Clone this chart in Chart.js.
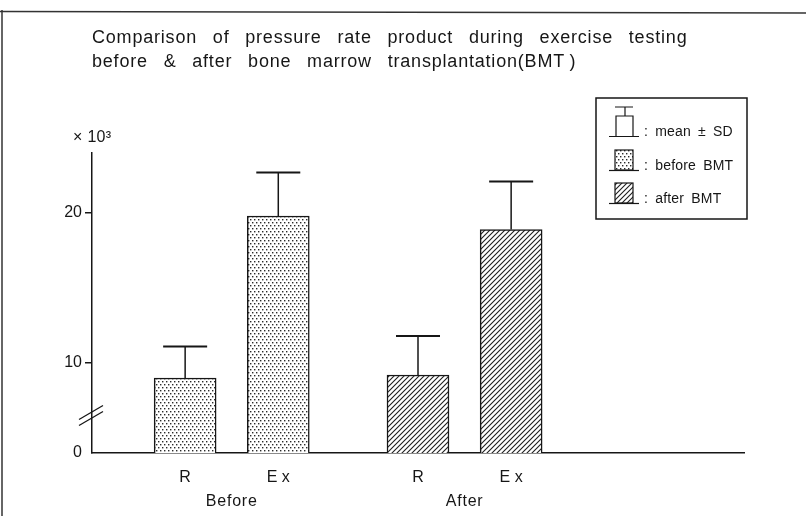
<!DOCTYPE html>
<html>
<head>
<meta charset="utf-8">
<script src="https://cdn.jsdelivr.net/npm/chart.js@4.4.1/dist/chart.umd.min.js"></script>
<style>
  html, body { margin: 0; padding: 0; background: #ffffff; }
  #wrap { width: 806px; height: 516px; }
</style>
</head>
<body>
<div id="wrap"><canvas id="c" width="806" height="516"></canvas></div>
<script>
// ---------- data ----------
const titleLines = [
  'Comparison of pressure rate product during exercise testing',
  'before & after bone marrow transplantation(BMT\u2009)'
];
const groups = ['Before', 'After'];
const conditions = ['R', 'E x'];
const beforeMean = [9.0, 19.8];
const beforeSD = [2.1, 2.9];
const afterMean = [9.2, 18.9];
const afterSD = [2.6, 3.2];
const yTickValues = [10, 20];
const axisFloorValue = 4;      // value where the broken axis starts (labelled 0)
const axisFloorLabel = '0';
const axisTopValue = 24;
const yUnitLabel = '× 10³';
const legendLabels = [': mean ± SD', ': before BMT', ': after BMT'];

// ---------- slot layout for the category axis ----------
const SLOT = { lead: 2, barStep: 2, groupStep: 5, total: 15 };
const slotLabels = new Array(SLOT.total).fill('');
const beforeData = new Array(SLOT.total).fill(null);
const afterData = new Array(SLOT.total).fill(null);
const slotSD = new Array(SLOT.total).fill(null);
const groupSlots = [];
groups.forEach((g, gi) => {
  const slots = [];
  conditions.forEach((c, ci) => {
    const s = SLOT.lead + gi * SLOT.groupStep + ci * SLOT.barStep;
    slotLabels[s] = c;
    if (gi === 0) { beforeData[s] = beforeMean[ci]; } else { afterData[s] = afterMean[ci]; }
    slotSD[s] = gi === 0 ? beforeSD[ci] : afterSD[ci];
    slots.push(s);
  });
  groupSlots.push(slots);
});

// ---------- patterns ----------
const INK = '#161616';
function dotPattern() {
  const t = document.createElement('canvas');
  t.width = 4; t.height = 6;
  const g = t.getContext('2d');
  g.fillStyle = '#ffffff'; g.fillRect(0, 0, 4, 6);
  g.fillStyle = '#2a2a2a';
  g.fillRect(0, 0, 1.4, 1.4);
  g.fillRect(2, 3, 1.4, 1.4);
  return g.createPattern(t, 'repeat');
}
function hatchPattern() {
  const s = 5;
  const t = document.createElement('canvas');
  t.width = s; t.height = s;
  const g = t.getContext('2d');
  g.fillStyle = '#ffffff'; g.fillRect(0, 0, s, s);
  g.strokeStyle = '#1e1e1e'; g.lineWidth = 1.1;
  g.beginPath();
  g.moveTo(0, s); g.lineTo(s, 0);
  g.moveTo(-1, 1); g.lineTo(1, -1);
  g.moveTo(s - 1, s + 1); g.lineTo(s + 1, s - 1);
  g.stroke();
  return g.createPattern(t, 'repeat');
}
const ctx0 = document.getElementById('c').getContext('2d');
const DOTS = dotPattern();
const HATCH = hatchPattern();

const FONT = '"Liberation Sans", Arial, Helvetica, sans-serif';

// ---------- plugins ----------
const bgPlugin = {
  id: 'bg',
  beforeDraw(chart) {
    const c = chart.ctx;
    c.save(); c.fillStyle = '#ffffff'; c.fillRect(0, 0, chart.width, chart.height); c.restore();
  }
};

const errorBars = {
  id: 'errorBars',
  afterDatasetsDraw(chart) {
    const c = chart.ctx;
    const y = chart.scales.y;
    c.save();
    c.strokeStyle = INK;
    chart.data.datasets.forEach((ds, di) => {
      const meta = chart.getDatasetMeta(di);
      meta.data.forEach((el, i) => {
        const v = ds.data[i];
        if (v === null || v === undefined) return;
        const top = y.getPixelForValue(v + slotSD[i]);
        c.lineWidth = 1.5;
        c.beginPath(); c.moveTo(el.x, el.y); c.lineTo(el.x, top); c.stroke();
        c.lineWidth = 2;
        c.beginPath(); c.moveTo(el.x - 22, top); c.lineTo(el.x + 22, top); c.stroke();
      });
    });
    c.restore();
  }
};

function setSpacing(c, ls, ws) {
  if ('letterSpacing' in c) c.letterSpacing = ls + 'px';
  if ('wordSpacing' in c) c.wordSpacing = ws + 'px';
}

const decor = {
  id: 'decor',
  afterDraw(chart) {
    const c = chart.ctx;
    const x = chart.scales.x, y = chart.scales.y;
    const area = chart.chartArea;
    c.save();
    c.fillStyle = INK; c.strokeStyle = INK;

    // scan frame
    c.lineWidth = 1.5; c.strokeStyle = '#333';
    c.beginPath(); c.moveTo(0, 11.5); c.lineTo(806, 13); c.stroke();
    c.beginPath(); c.moveTo(2, 10); c.lineTo(2, 516); c.stroke();
    c.strokeStyle = INK;

    // title
    c.font = '18px ' + FONT;
    c.textAlign = 'left'; c.textBaseline = 'middle';
    setSpacing(c, 0.8, 10);
    c.fillText(titleLines[0], 92, 38);
    c.fillText(titleLines[1], 92, 62);
    setSpacing(c, 0, 0);

    // unit label
    c.font = '16px ' + FONT;
    setSpacing(c, 0.3, 0);
    c.fillText(yUnitLabel, 73, 138);
    setSpacing(c, 0, 0);

    // axis break
    const yb = y.getPixelForValue(6.5);
    c.lineWidth = 1.3;
    [-3, 3].forEach(off => {
      c.beginPath();
      c.moveTo(area.left - 13, yb + off + 7);
      c.lineTo(area.left + 11, yb + off - 7);
      c.stroke();
    });

    // group labels
    c.font = '16px ' + FONT;
    c.textAlign = 'center';
    setSpacing(c, 0.8, 0);
    groups.forEach((g, gi) => {
      const s = groupSlots[gi];
      const cx = (x.getPixelForValue(s[0]) + x.getPixelForValue(s[s.length - 1])) / 2;
      c.fillText(g, cx, 502);
    });
    setSpacing(c, 0, 0);

    // legend
    c.lineWidth = 1.5;
    c.strokeRect(596, 98, 151, 121);
    // item 1: mean ± SD symbol
    c.lineWidth = 1.2;
    c.beginPath();
    c.moveTo(615, 107); c.lineTo(633, 107);
    c.moveTo(625, 107); c.lineTo(625, 116);
    c.moveTo(616, 136); c.lineTo(616, 116); c.lineTo(633, 116); c.lineTo(633, 136);
    c.moveTo(609, 136.5); c.lineTo(639, 136.5);
    c.stroke();
    // item 2: dotted box
    c.fillStyle = DOTS; c.fillRect(615, 150, 18, 20);
    c.strokeRect(615, 150, 18, 20);
    c.beginPath(); c.moveTo(609, 170.5); c.lineTo(639, 170.5); c.stroke();
    // item 3: hatched box
    c.fillStyle = HATCH; c.fillRect(615, 183, 18, 20);
    c.strokeRect(615, 183, 18, 20);
    c.beginPath(); c.moveTo(609, 203.5); c.lineTo(639, 203.5); c.stroke();
    c.fillStyle = INK;
    c.font = '14px ' + FONT;
    c.textAlign = 'left';
    setSpacing(c, 0.2, 3);
    c.fillText(legendLabels[0], 644, 132);
    c.fillText(legendLabels[1], 644, 166);
    c.fillText(legendLabels[2], 644, 199);
    setSpacing(c, 0, 0);
    c.restore();
  }
};

// ---------- chart ----------
new Chart(ctx0, {
  type: 'bar',
  data: {
    labels: slotLabels,
    datasets: [
      { label: 'before BMT', data: beforeData, backgroundColor: DOTS, borderColor: INK, borderWidth: 1.5, borderSkipped: false },
      { label: 'after BMT', data: afterData, backgroundColor: HATCH, borderColor: INK, borderWidth: 1.5, borderSkipped: false }
    ]
  },
  options: {
    responsive: false,
    animation: false,
    devicePixelRatio: 1,
    layout: { padding: { left: 0, top: 153, right: 62, bottom: 0 } },
    datasets: { bar: { barThickness: 62, grouped: false } },
    plugins: { legend: { display: false }, tooltip: { enabled: false }, title: { display: false } },
    scales: {
      x: {
        type: 'category',
        offset: false,
        grid: { display: false, drawTicks: false },
        border: { display: true, color: INK, width: 1.5 },
        ticks: { autoSkip: false, maxRotation: 0, minRotation: 0, padding: 15, color: INK, font: { size: 16, family: FONT } },
        afterFit(scale) { scale.height = 63; }
      },
      y: {
        type: 'linear',
        min: axisFloorValue,
        max: axisTopValue,
        afterBuildTicks(scale) {
          scale.ticks = [axisFloorValue].concat(yTickValues).map(v => ({ value: v }));
        },
        grid: {
          drawOnChartArea: false,
          tickLength: 7,
          lineWidth: 1.5,
          color: (ctx) => (ctx.tick && ctx.tick.value === axisFloorValue) ? 'rgba(0,0,0,0)' : INK
        },
        border: { display: true, color: INK, width: 1.5 },
        ticks: {
          padding: 3,
          color: INK,
          font: { size: 16, family: FONT },
          callback: (v) => v === axisFloorValue ? axisFloorLabel : String(v)
        },
        afterFit(scale) { scale.width = 92; }
      }
    }
  },
  plugins: [bgPlugin, errorBars, decor]
});
</script>
</body>
</html>
